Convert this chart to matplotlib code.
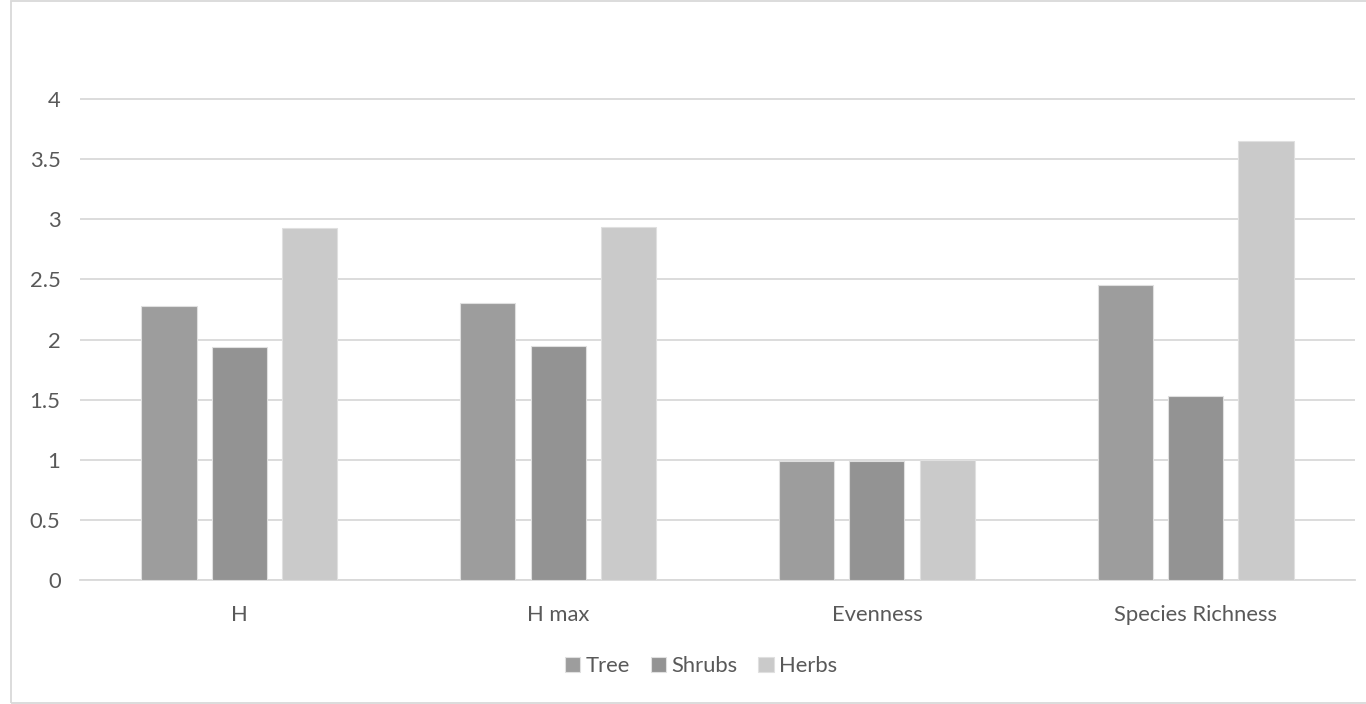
import matplotlib
matplotlib.use("Agg")
import matplotlib.pyplot as plt
import numpy as np
from matplotlib.patches import Rectangle

categories = ["H", "H max", "Evenness", "Species Richness"]
series_names = ["Tree", "Shrubs", "Herbs"]
tree = [2.28, 2.30, 0.99, 2.45]
shrubs = [1.94, 1.95, 0.99, 1.53]
herbs = [2.93, 2.94, 1.00, 3.65]
y_ticks = [0, 0.5, 1, 1.5, 2, 2.5, 3, 3.5, 4]
y_tick_labels = ["0", "0.5", "1", "1.5", "2", "2.5", "3", "3.5", "4"]

colors = ["#9D9D9D", "#939393", "#CACACA"]
text_color = "#595959"
grid_color = "#D9D9D9"

plt.rcParams['font.family'] = ['Lato', 'DejaVu Sans']
fs = 15.8

fig = plt.figure(figsize=(13.66, 7.04), dpi=100)
ax = fig.add_axes([80/1366, 1-580/704, 1275/1366, 541/704])

x = np.arange(len(categories))
width = 0.173
step = 0.221
for i, (vals, name, c) in enumerate(zip([tree, shrubs, herbs], series_names, colors)):
    ax.bar(x + (i-1)*step, vals, width, color=c, label=name, edgecolor="#E0E0E0", linewidth=0.8, zorder=3)

ax.set_xlim(-0.5, len(categories)-0.5)
ax.set_ylim(0, 4.5)
ax.set_yticks(y_ticks)
ax.set_yticklabels(y_tick_labels)
ax.set_xticks(x)
ax.set_xticklabels(categories)
ax.yaxis.grid(True, color=grid_color, linewidth=1.3, zorder=0)
ax.set_axisbelow(True)
for s in ["top", "right", "left"]:
    ax.spines[s].set_visible(False)
ax.spines["bottom"].set_color(grid_color)
ax.spines["bottom"].set_linewidth(1.3)
ax.tick_params(axis="both", length=0, colors=text_color, labelsize=fs)
ax.tick_params(axis="y", pad=14)
ax.tick_params(axis="x", pad=18)

leg = fig.legend(loc="center", bbox_to_anchor=(701/1366, 1-666/704), ncol=3, frameon=False,
                 fontsize=fs, handlelength=0.7, handleheight=0.7, handletextpad=0.25,
                 columnspacing=0.95, labelcolor=text_color)

fig.patches.append(Rectangle((11/1366, 1/704), 1.0, 702/704, transform=fig.transFigure,
                             fill=False, edgecolor="#D9D9D9", linewidth=1.3))

fig.savefig("out.png", dpi=100, facecolor="white")
